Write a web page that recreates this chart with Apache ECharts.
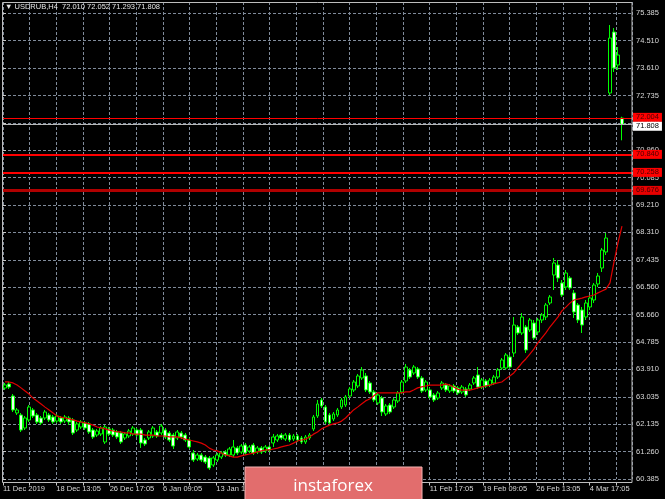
<!DOCTYPE html>
<html><head><meta charset="utf-8">
<script src="https://cdn.jsdelivr.net/npm/echarts/dist/echarts.min.js"></script>
<style>html,body{margin:0;padding:0;background:#000}#c{width:665px;height:499px}</style>
</head><body><div id="c"></div>
<script>
const symbolName = 'USDRUB,H4';
const priceTicks = ['60.385','61.260','62.135','63.035','63.910','64.785','65.660','66.560','67.435','68.310','69.210','70.085','70.960','71.860','72.735','73.610','74.510','75.385'];
const timeLabels = ['11 Dec 2019','18 Dec 13:05','26 Dec 17:05','6 Jan 09:05','13 Jan 13:05','21 Jan 09:05','28 Jan 13:05','4 Feb 17:05','11 Feb 17:05','19 Feb 09:05','26 Feb 13:05','4 Mar 17:05'];

const opens = [
63.316,63.445,63.058,62.511,62.447,62.028,62.285,62.608,62.447,62.350,
62.350,62.447,62.382,62.253,62.350,62.253,62.350,62.285,61.963,62.060,
62.189,62.157,61.963,61.802,61.835,61.577,61.996,61.963,61.899,61.867,
61.706,61.770,61.835,61.963,61.963,61.641,61.706,61.770,61.899,61.867,
61.963,61.867,61.802,61.706,61.867,61.802,61.641,61.223,61.029,61.158,
61.094,61.062,60.836,60.997,61.094,61.255,61.158,61.158,61.384,61.255,
61.480,61.287,61.480,61.255,61.384,61.287,61.416,61.545,61.641,61.802,
61.674,61.802,61.674,61.770,61.706,61.577,61.706,61.996,62.414,62.930,
62.704,62.447,62.318,62.447,62.704,62.769,63.058,63.252,63.380,63.638,
63.703,63.477,63.187,62.833,62.994,62.479,62.769,62.704,62.897,63.187,
63.542,63.896,63.799,63.928,63.638,63.252,63.252,63.091,62.994,63.316,
63.413,63.219,63.380,63.316,63.187,63.284,63.284,63.477,63.735,63.348,
63.542,63.413,63.477,63.670,63.960,63.960,64.314,64.443,65.281,65.087,
65.281,65.184,65.409,65.120,65.506,65.603,66.054,66.955,67.277,66.698,
66.569,66.859,66.376,65.989,65.828,65.603,65.925,66.150,66.665,67.181,
67.696,72.817,74.781,73.719,72.010];
const closes = [
63.413,63.348,62.608,62.608,61.963,62.350,62.704,62.414,62.221,62.189,
62.543,62.285,62.221,62.414,62.221,62.382,62.221,61.867,62.157,62.221,
62.028,61.899,61.738,61.931,62.028,62.060,61.835,61.802,61.738,61.577,
61.835,61.931,62.028,61.802,61.545,61.513,61.899,62.028,61.770,62.092,
61.738,61.641,61.448,61.899,61.738,61.641,61.416,60.997,61.158,60.997,
60.933,60.740,61.062,61.158,61.223,61.158,61.352,61.416,61.223,61.448,
61.223,61.416,61.223,61.384,61.255,61.416,61.319,61.738,61.770,61.706,
61.802,61.641,61.770,61.641,61.577,61.738,61.802,62.382,62.801,62.736,
62.221,62.189,62.479,62.608,62.930,63.026,63.284,63.509,63.703,63.896,
63.252,63.187,62.930,63.091,62.543,62.736,62.543,62.930,63.155,63.509,
63.992,63.670,63.992,63.670,63.219,63.509,63.026,62.930,63.155,63.477,
63.252,63.380,63.219,63.155,63.348,63.091,63.413,63.638,63.348,63.574,
63.380,63.574,63.670,63.896,64.218,64.379,63.992,65.345,65.087,65.603,
64.540,65.506,64.926,65.506,65.667,65.989,66.247,67.342,66.859,66.311,
67.020,66.537,65.764,65.506,65.345,66.054,66.215,66.633,66.923,67.760,
68.147,74.588,73.622,74.041,71.808];
const lows = [
63.252,63.284,62.543,62.447,61.899,61.963,62.221,62.350,62.157,62.124,
62.285,62.221,62.157,62.189,62.157,62.189,62.124,61.802,61.899,61.996,
61.963,61.835,61.674,61.738,61.770,61.513,61.770,61.738,61.674,61.513,
61.641,61.706,61.770,61.738,61.384,61.448,61.641,61.706,61.706,61.802,
61.674,61.577,61.352,61.641,61.674,61.577,61.352,60.933,60.965,60.933,
60.868,60.675,60.772,60.933,61.029,61.094,61.094,61.094,61.158,61.190,
61.158,61.223,61.158,61.190,61.190,61.223,61.255,61.416,61.577,61.641,
61.609,61.577,61.609,61.577,61.513,61.513,61.641,61.931,62.350,62.672,
62.157,62.124,62.253,62.382,62.640,62.704,62.994,63.187,63.316,63.574,
63.187,63.123,62.865,62.769,62.414,62.414,62.479,62.640,62.833,63.123,
63.477,63.606,63.735,63.606,63.155,63.187,62.962,62.865,62.930,63.252,
63.187,63.155,63.155,63.091,63.123,63.026,63.219,63.413,63.284,63.284,
63.316,63.348,63.413,63.606,63.896,63.896,63.928,64.314,65.023,65.023,
64.443,65.120,64.862,65.023,65.409,65.506,65.989,66.472,66.730,66.247,
66.472,66.472,65.570,65.409,65.087,65.506,65.828,66.054,66.569,67.052,
67.599,72.752,73.493,73.558,71.293];
const highs = [
63.477,63.509,63.123,62.672,62.511,62.414,62.769,62.672,62.511,62.414,
62.608,62.511,62.447,62.479,62.414,62.447,62.414,62.350,62.221,62.285,
62.253,62.221,62.028,61.996,62.092,62.124,62.060,62.028,61.963,61.931,
61.899,61.996,62.092,62.028,62.028,61.706,61.963,62.092,61.963,62.157,
62.028,61.931,61.867,61.963,61.931,61.867,61.706,61.319,61.223,61.223,
61.158,61.126,61.126,61.223,61.287,61.319,61.416,61.641,61.448,61.513,
61.545,61.480,61.545,61.448,61.448,61.480,61.480,61.835,61.835,61.867,
61.867,61.867,61.835,61.835,61.770,61.802,61.867,62.447,62.930,62.994,
62.769,62.511,62.543,62.672,62.994,63.091,63.348,63.574,63.767,63.992,
63.799,63.542,63.252,63.155,63.058,62.801,62.833,62.994,63.219,63.574,
64.089,63.960,64.057,63.992,63.703,63.574,63.316,63.155,63.219,63.542,
63.477,63.445,63.445,63.380,63.413,63.348,63.477,63.703,63.992,63.638,
63.606,63.638,63.735,63.960,64.282,64.443,64.379,65.603,65.345,65.732,
65.345,65.570,65.506,65.570,65.732,66.054,66.311,67.503,67.438,66.794,
67.116,66.923,66.472,66.054,65.925,66.150,66.311,66.698,67.020,67.825,
68.308,75.007,74.910,74.298,72.052];
const maValues = [
63.51,63.51,63.48,63.41,63.32,63.22,63.12,62.99,62.90,62.80,
62.70,62.61,62.51,62.41,62.38,62.35,62.32,62.29,62.25,62.22,
62.19,62.16,62.12,62.06,62.03,62.00,61.96,61.93,61.90,61.90,
61.87,61.87,61.83,61.83,61.83,61.80,61.80,61.80,61.77,61.77,
61.77,61.74,61.74,61.74,61.71,61.67,61.64,61.61,61.58,61.54,
61.48,61.38,61.32,61.29,61.22,61.16,61.13,61.09,61.09,61.13,
61.16,61.19,61.22,61.26,61.29,61.32,61.32,61.35,61.38,61.42,
61.45,61.48,61.54,61.61,61.64,61.67,61.74,61.83,61.90,62.00,
62.06,62.12,62.16,62.19,62.25,62.35,62.48,62.61,62.70,62.80,
62.90,62.96,63.06,63.16,63.16,63.16,63.16,63.16,63.16,63.16,
63.19,63.19,63.25,63.32,63.35,63.38,63.41,63.41,63.41,63.41,
63.45,63.41,63.35,63.28,63.25,63.25,63.25,63.28,63.32,63.35,
63.38,63.41,63.45,63.48,63.51,63.61,63.70,63.80,63.96,64.12,
64.25,64.41,64.57,64.77,64.93,65.09,65.28,65.44,65.60,65.80,
65.92,66.05,66.15,66.18,66.21,66.25,66.28,66.31,66.38,66.44,
66.50,66.70,67.37,67.99,68.53];
const levelValues = [72.004, 70.840, 70.258, 69.676];

// ---- layout / style ----
const FONT = '"Liberation Sans", Arial, sans-serif';
const yMin = 60.385, yStep = 15 / 17, yMax = 75.748;
const emptySlots = 2;
const categories = opens.map((_, i) => String(i)).concat(Array.from({length: emptySlots}, (_, k) => 'e' + k));
const candleData = opens.map((o, i) => [o, closes[i], lows[i], highs[i]]);
const last = opens.length - 1;
const levelStyles = [
  {color: '#ff0000', width: 1, box: '#ff0000', dy: -1},
  {color: '#ff0000', width: 2, box: '#ff0000', dy: 0},
  {color: '#ff0000', width: 2, box: '#ff0000', dy: 0},
  {color: '#b00000', width: 3, box: '#e80000', dy: 0}
];
const markData = levelValues.map((v, i) => ({
  yAxis: v,
  name: v.toFixed(3),
  lineStyle: {color: levelStyles[i].color, width: levelStyles[i].width, type: 'solid'},
  label: {backgroundColor: levelStyles[i].box, color: '#4a0000', offset: [0, levelStyles[i].dy]}
}));
markData.push({
  yAxis: closes[last],
  name: closes[last].toFixed(3),
  lineStyle: {color: '#b8b8b8', width: 1, type: 'solid'},
  label: {backgroundColor: '#ffffff', color: '#000000', offset: [0, 2]}
});

const chart = echarts.init(document.getElementById('c'), null, {renderer: 'canvas'});
const gridColor = '#808b9a';
chart.setOption({
  backgroundColor: '#000000',
  animation: false,
  grid: {left: 3, right: 33, top: 2, bottom: 20, containLabel: false},
  xAxis: [
    {type: 'category', data: categories, boundaryGap: true, show: false},
    {type: 'value', min: 0, max: 23.5875, interval: 1, position: 'bottom', offset: 3.5,
     axisLine: {show: false},
     axisTick: {show: true, length: 3, lineStyle: {color: '#c8c8c8'}},
     axisLabel: {show: true, align: 'left', margin: 2, color: '#d8d8d8', fontSize: 7.5, fontFamily: FONT,
       showMaxLabel: false,
       formatter: v => (Math.abs(v - Math.round(v)) < 1e-6 && Math.round(v) % 2 === 0 && timeLabels[Math.round(v) / 2]) ? timeLabels[Math.round(v) / 2] : ''},
     splitLine: {show: true, lineStyle: {color: gridColor, width: 1, type: [3, 2]}}}
  ],
  yAxis: {
    type: 'value', position: 'right', min: yMin, max: yMax, interval: yStep, scale: true,
    axisLine: {show: false},
    axisTick: {show: true, length: 3, lineStyle: {color: '#c8c8c8'}},
    axisLabel: {show: true, margin: 4, color: '#d8d8d8', fontSize: 7.5, fontFamily: FONT,
      formatter: v => {
        const k = (v - yMin) / yStep;
        const r = Math.round(k);
        return (Math.abs(k - r) < 0.01 && priceTicks[r]) ? priceTicks[r] : '';
      }},
    splitLine: {show: true, lineStyle: {color: gridColor, width: 1, type: [3, 2]}}
  },
  series: [
    {type: 'candlestick', xAxisIndex: 0, data: candleData, barWidth: 3.4, z: 3,
     itemStyle: {color: '#000000', color0: '#f0fff0', borderColor: '#00ff00', borderColor0: '#00ff00', borderWidth: 1}},
    {type: 'line', xAxisIndex: 0, data: maValues, symbol: 'none', z: 4,
     lineStyle: {color: '#e00000', width: 1.2}},
    {type: 'line', xAxisIndex: 0, data: [], clip: false, z: 6, silent: true,
     markLine: {symbol: 'none', silent: true, animation: false,
       label: {show: true, position: 'end', distance: 1, fontSize: 7.5, fontFamily: FONT,
         padding: [1, 3, 0, 3], formatter: '{b}'},
       data: markData}}
  ],
  graphic: [
    {type: 'rect', z: 10, silent: true, shape: {x: 2.5, y: 2.5, width: 629.5, height: 480},
     style: {fill: null, stroke: '#bdbdbd', lineWidth: 1}},
    {type: 'text', z: 10, left: 5, top: 3,
     style: {text: '\u25BC ' + symbolName + '  ' + [opens[last], highs[last], lows[last], closes[last]].map(v => v.toFixed(3)).join(' '),
       fill: '#e6e6e6', font: '7.5px ' + FONT}},
    {type: 'rect', z: 20, silent: true, shape: {x: 245, y: 467, width: 177, height: 34},
     style: {fill: '#e26d6d', stroke: '#f3b3b3', lineWidth: 1}},
    {type: 'text', z: 21, silent: true, x: 333, y: 486,
     style: {text: 'instaforex', fill: '#ffffff', font: '17px "Open Sans", sans-serif', align: 'center', verticalAlign: 'middle'}}
  ]
});
</script>
</body></html>
